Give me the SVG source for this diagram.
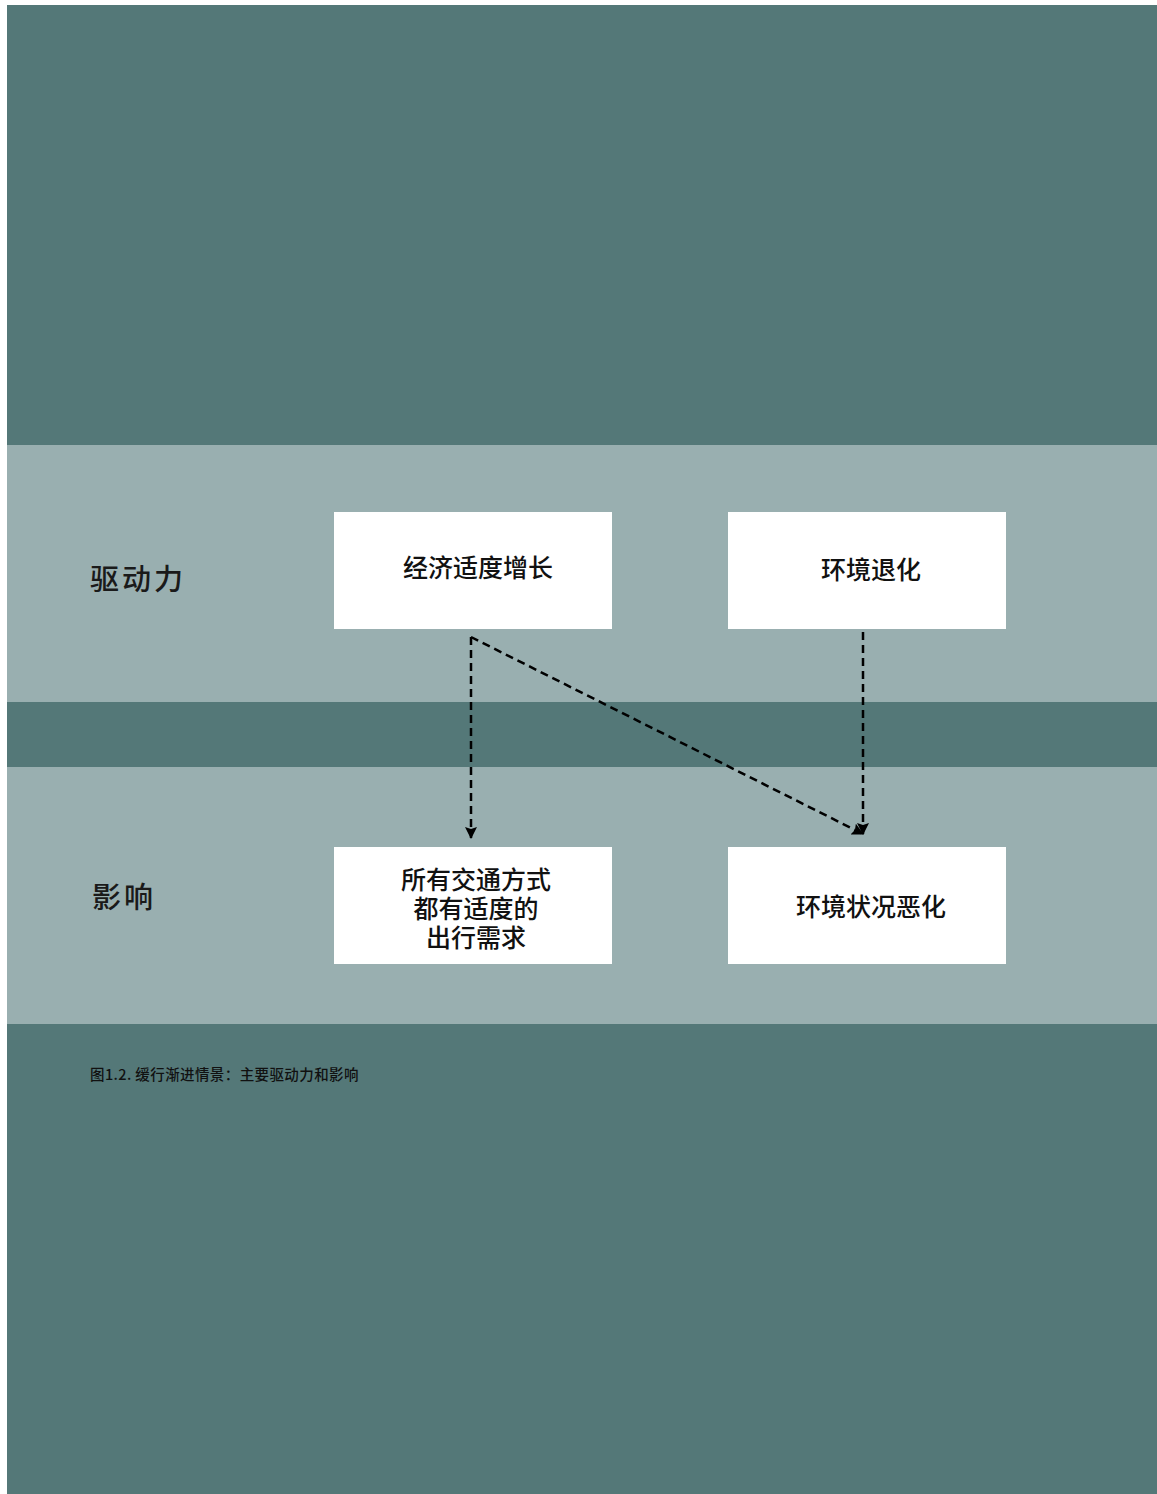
<svg xmlns="http://www.w3.org/2000/svg" width="1157" height="1494" viewBox="0 0 1157 1494">
  <defs>
    <style>
      .box { fill: #ffffff; }
      .t { font-family: "Noto Sans CJK SC", "Noto Sans", sans-serif; fill: #111111; text-anchor: middle; font-weight: 500; }
      .bt { font-size: 25px; }
      .lbl { font-family: "Noto Sans CJK SC", "Noto Sans", sans-serif; fill: #1a1a1a; font-size: 29px; letter-spacing: 3px; font-weight: 500; }
      .cap { font-family: "Noto Sans CJK SC", "Noto Sans", sans-serif; fill: #111111; font-size: 14.5px; font-weight: 500; letter-spacing: 0.4px; }
      .conn { fill: none; stroke: #000000; stroke-width: 2.5; stroke-dasharray: 8 5; }
    </style>
    <marker id="arr" markerWidth="12" markerHeight="12" refX="11" refY="6" orient="auto" markerUnits="userSpaceOnUse" viewBox="0 0 12 12">
      <path d="M0,0 L12,6 L0,12 L2,6 Z" fill="#000000"/>
    </marker>
  </defs>
  <rect x="0" y="0" width="1157" height="1494" fill="#ffffff"/>
  <rect x="7" y="5" width="1150" height="1489" fill="#547878"/>
  <rect x="7" y="445" width="1150" height="257" fill="#99AFB0"/>
  <rect x="7" y="767" width="1150" height="257" fill="#99AFB0"/>

  <text class="lbl" x="90" y="590">驱动力</text>
  <text class="lbl" x="92" y="908">影响</text>

  <g id="node-growth">
    <rect class="box" x="334" y="512" width="278" height="117"/>
    <text class="t bt" x="478" y="577">经济适度增长</text>
  </g>
  <g id="node-envdeg">
    <rect class="box" x="728" y="512" width="278" height="117"/>
    <text class="t bt" x="871" y="579">环境退化</text>
  </g>
  <g id="node-demand">
    <rect class="box" x="334" y="847" width="278" height="117"/>
    <text class="t bt" x="476" y="889">所有交通方式</text>
    <text class="t bt" x="476" y="918">都有适度的</text>
    <text class="t bt" x="476" y="947">出行需求</text>
  </g>
  <g id="node-envworse">
    <rect class="box" x="728" y="847" width="278" height="117"/>
    <text class="t bt" x="871" y="916">环境状况恶化</text>
  </g>

  <g id="connectors">
    <path class="conn" d="M471,637 L471,838" marker-end="url(#arr)"/>
    <path class="conn" d="M471,637 L863,834" marker-end="url(#arr)"/>
    <path class="conn" d="M863,632 L863,834" marker-end="url(#arr)"/>
  </g>

  <text class="cap" x="90" y="1080">图1.2. 缓行渐进情景：主要驱动力和影响</text>
</svg>
